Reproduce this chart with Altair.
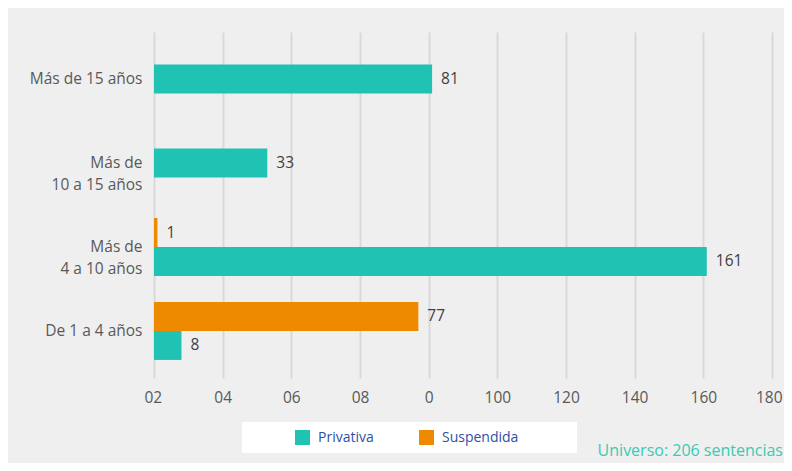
import altair as alt
import pandas as pd

categories = ["Más de 15 años", "Más de|10 a 15 años", "Más de|4 a 10 años", "De 1 a 4 años"]
series = ["Privativa", "Suspendida"]
privativa = [81, 33, 161, 8]
suspendida = [None, None, 1, 77]
tick_values = [0, 20, 40, 60, 80, 100, 120, 140, 160, 180]
tick_labels = ["02", "04", "06", "08", "0", "100", "120", "140", "160", "180"]
colors = ["#20c2b3", "#ee8a00"]

rows = []
for c, p, s in zip(categories, privativa, suspendida):
    n = sum(v is not None for v in (p, s))
    if p is not None:
        rows.append({"cat": c, "serie": "Privativa", "valor": p, "n": n})
    if s is not None:
        rows.append({"cat": c, "serie": "Suspendida", "valor": s, "n": n})
df = pd.DataFrame(rows)

FONT = "Open Sans"
label_expr = "[" + ",".join("'%s'" % t for t in tick_labels) + "][datum.value/20]"
legend_label_expr = "datum.value == 'Suspendida' ? 'Suspendida' + '\\u2800\\u2800\\u2800\\u2800\\u2800' : datum.label"

x_enc = alt.X("valor:Q", scale=alt.Scale(domain=[0, 180], nice=False, zero=True),
              axis=alt.Axis(values=tick_values, labelExpr=label_expr, title=None,
                            grid=True, gridColor="#d9d9d9", gridWidth=2, domain=False,
                            ticks=False, labelPadding=12, labelFontSize=15.5,
                            labelFlush=True, labelFlushOffset=10,
                            labelColor="#595959", labelFont=FONT))
y_enc = alt.Y("cat:N", sort=categories,
              scale=alt.Scale(paddingInner=0.31, paddingOuter=0.215),
              axis=alt.Axis(title=None, labelExpr="split(datum.label, '|')",
                            labelLineHeight=22, labelFontSize=15.5, labelColor="#595959",
                            labelFont=FONT, labelPadding=12, ticks=False, domain=False,
                            grid=False))
color_enc = alt.Color("serie:N", scale=alt.Scale(domain=series, range=colors),
                      legend=alt.Legend(title=None, orient="none", legendX=88, legendY=390,
                                        direction="horizontal", fillColor="white",
                                        padding=8, symbolType="square", symbolSize=225,
                                        symbolStrokeWidth=0, labelFontSize=14,
                                        labelColor="#2f4fa8", labelFont=FONT,
                                        labelLimit=300,
                                        columnPadding=0, labelOffset=8,
                                        symbolOffset=45, labelExpr=legend_label_expr))

base = alt.Chart(df)
both = base.transform_filter("datum.n == 2")
single = base.transform_filter("datum.n == 1")

yoff = alt.YOffset("serie:N", sort=["Suspendida", "Privativa"],
                   scale=alt.Scale(paddingInner=0, paddingOuter=0))

text_kw = dict(align="left", dx=9, fontSize=15.5, color="#404040", font=FONT)
bars_both = both.mark_bar().encode(x=x_enc, y=y_enc, yOffset=yoff, color=color_enc)
text_both = both.mark_text(**text_kw).encode(
    x="valor:Q", y=alt.Y("cat:N", sort=categories), yOffset=yoff, text="valor:Q")
bars_single = single.mark_bar(height={"band": 0.5}).encode(x=x_enc, y=y_enc, color=color_enc)
text_single = single.mark_text(**text_kw).encode(
    x="valor:Q", y=alt.Y("cat:N", sort=categories), text="valor:Q")

chart = alt.layer(bars_both, bars_single, text_both, text_single).properties(
    width=618, height=346,
    autosize=alt.AutoSizeParams(type="none"),
    padding={"left": 146, "top": 24, "right": 12, "bottom": 85},
    background="#efefef",
    title=alt.TitleParams("Universo: 206 sentencias", orient="bottom", anchor="end",
                          frame="group", color="#3cc9b5", fontSize=16,
                          fontWeight="normal", font=FONT, offset=-10, dx=11),
).configure_view(stroke=None)

chart.save("out.html", embed_options={"renderer": "svg", "actions": False})
